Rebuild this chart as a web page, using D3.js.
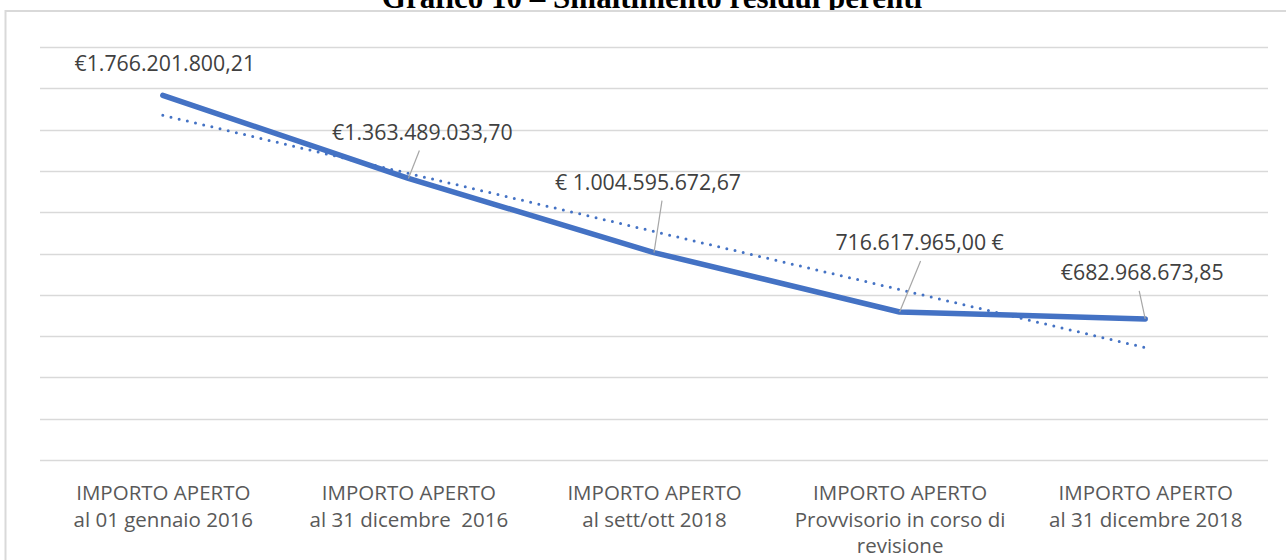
<!DOCTYPE html>
<html>
<head>
<meta charset="utf-8">
<script src="https://cdn.jsdelivr.net/npm/d3@7"></script>
<style>
  body { margin: 0; background: #fff; }
  svg { display: block; }
</style>
</head>
<body>
<script>
// Data
const categories = ["cat1", "cat2", "cat3", "cat4", "cat5"];
const tickLines = [
    ["IMPORTO APERTO", "al 01 gennaio 2016"],
    ["IMPORTO APERTO", "al 31 dicembre  2016"],
    ["IMPORTO APERTO", "al sett/ott 2018"],
    ["IMPORTO APERTO", "Provvisorio in corso di", "revisione"],
    ["IMPORTO APERTO", "al 31 dicembre 2018"]
];
const values = [1766201800.21, 1363489033.70, 1004595672.67, 716617965.00, 682968673.85];
const valueLabels = ["€1.766.201.800,21", "€1.363.489.033,70", "€ 1.004.595.672,67", "716.617.965,00 €", "€682.968.673,85"];
const yTicks = d3.range(0, 2000000001, 200000000);
const title = "Grafico 10 – Smaltimento residui perenti";

const width = 1286, height = 560;
const blue = "#4472C4";

var svg = d3.select("body").append("svg")
    .attr("width", width)
    .attr("height", height);

// Title (cut off at the top in the original)
svg.append("text")
    .attr("x", 652)
    .attr("y", 7.5)
    .attr("text-anchor", "middle")
    .attr("font-family", "Liberation Serif, serif")
    .attr("font-weight", "bold")
    .attr("font-size", 31)
    .attr("fill", "#000")
    .text(title);

// Chart area border
svg.append("rect")
    .attr("x", 5.5)
    .attr("y", 11)
    .attr("width", width + 20)
    .attr("height", height + 20)
    .attr("fill", "#fff")
    .attr("stroke", "#d9d9d9")
    .attr("stroke-width", 2);

var x = d3.scalePoint()
    .domain(categories)
    .range([40, 1268])
    .padding(0.5);

var y = d3.scaleLinear()
    .domain([0, 2000000000])
    .range([460, 47]);

// Gridlines
svg.append("g")
    .selectAll("line")
    .data(yTicks)
    .enter().append("line")
    .attr("x1", 40)
    .attr("x2", 1268)
    .attr("y1", function(d) { return Math.round(y(d)) + 0.5; })
    .attr("y2", function(d) { return Math.round(y(d)) + 0.5; })
    .attr("stroke", "#d9d9d9")
    .attr("stroke-width", 1.4);

// X axis labels
var xAxis = svg.append("g")
    .attr("transform", "translate(0,460)")
    .call(d3.axisBottom(x).tickSize(0).tickFormat(""));
xAxis.select(".domain").remove();
xAxis.selectAll(".tick text").remove();
xAxis.selectAll(".tick").each(function(d, i) {
    var t = d3.select(this).append("text")
        .attr("text-anchor", "middle")
        .attr("font-family", "Open Sans, sans-serif")
        .attr("font-size", 20.5)
        .attr("fill", "#595959")
        .style("white-space", "pre");
    tickLines[i].forEach(function(line, j) {
        t.append("tspan")
            .attr("x", 0)
            .attr("y", 40 + j * 26.5)
            .text(line);
    });
});

// Linear trendline (least squares, as the spreadsheet trendline)
var n = values.length;
var xs = d3.range(1, n + 1);
var mx = d3.mean(xs), my = d3.mean(values);
var slope = d3.sum(xs, function(v, i) { return (v - mx) * (values[i] - my); }) /
            d3.sum(xs, function(v) { return (v - mx) * (v - mx); });
var icpt = my - slope * mx;
var trend = [icpt + slope * 1, icpt + slope * n];

svg.append("line")
    .attr("x1", x(categories[0]))
    .attr("y1", y(trend[0]))
    .attr("x2", x(categories[n - 1]))
    .attr("y2", y(trend[1]))
    .attr("stroke", blue)
    .attr("stroke-width", 3)
    .attr("stroke-linecap", "round")
    .attr("stroke-dasharray", "0 8.4");

// Main series line
var line = d3.line()
    .x(function(d, i) { return x(categories[i]); })
    .y(function(d) { return y(d); });

svg.append("path")
    .datum(values)
    .attr("d", line)
    .attr("fill", "none")
    .attr("stroke", blue)
    .attr("stroke-width", 5.5)
    .attr("stroke-linecap", "round")
    .attr("stroke-linejoin", "round");

// Data labels, moved by hand in the original, with leader lines
var labelPos = [
    { dx: 2, dy: -32, lead: null },
    { dx: 14, dy: -46, lead: -3 },
    { dx: -6, dy: -70, lead: 14 },
    { dx: 20, dy: -69, lead: 1 },
    { dx: -3, dy: -46, lead: -3 }
];

values.forEach(function(v, i) {
    var px = x(categories[i]), py = y(v);
    var cx = px + labelPos[i].dx, cy = py + labelPos[i].dy;
    if (labelPos[i].lead !== null) {
        svg.append("line")
            .attr("x1", cx + labelPos[i].lead)
            .attr("y1", cy + 18)
            .attr("x2", px)
            .attr("y2", py)
            .attr("stroke", "#a6a6a6")
            .attr("stroke-width", 1.2);
    }
    svg.append("text")
        .attr("x", cx)
        .attr("y", cy)
        .attr("dy", "0.35em")
        .attr("text-anchor", "middle")
        .attr("font-family", "Open Sans, sans-serif")
        .attr("font-size", 21.3)
        .attr("fill", "#404040")
        .text(valueLabels[i]);
});
</script>
</body>
</html>
